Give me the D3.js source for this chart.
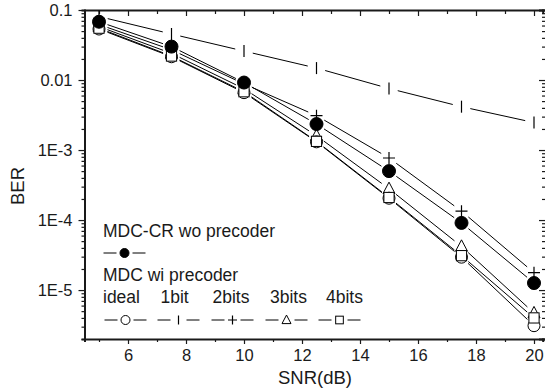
<!DOCTYPE html>
<html>
<head>
<meta charset="utf-8">
<script src="https://cdn.jsdelivr.net/npm/d3@7"></script>
<style>
  html, body { margin: 0; padding: 0; background: #fff; }
  svg { display: block; font-family: "Liberation Sans", Arial, sans-serif; }
</style>
</head>
<body>
<svg id="chart" width="545" height="392"></svg>
<script>
// ---- data ----
const snr = [5, 7.5, 10, 12.5, 15, 17.5, 20];
const berCR    = [0.068, 0.030, 0.0092, 0.00235, 5.0e-4, 9.1e-5, 1.26e-5];
const berIdeal = [0.0535, 0.0215, 0.0066, 0.00131, 2.05e-4, 2.95e-5, 3.1e-6];
const ber1bit  = [0.0807, 0.0454, 0.0259, 0.0148, 0.00757, 0.00416, 0.00247];
const ber2bits = [0.062, 0.027, 0.0088, 0.0031, 7.7e-4, 1.34e-4, 1.77e-5];
const ber3bits = [0.058, 0.024, 0.0075, 0.0016, 2.8e-4, 4.2e-5, 4.7e-6];
const ber4bits = [0.055, 0.022, 0.0068, 0.00133, 2.1e-4, 3.1e-5, 4.0e-6];
const xMajorTicks = [6, 8, 10, 12, 14, 16, 18, 20];
const xMinorTicks = [5, 7, 9, 11, 13, 15, 17, 19];
const yMajorTicks = [0.1, 0.01, 1e-3, 1e-4, 1e-5];
const yTickLabels = ["0.1", "0.01", "1E-3", "1E-4", "1E-5"];
const legendTitle1 = "MDC-CR wo precoder";
const legendTitle2 = "MDC wi precoder";
const legendNames = ["ideal", "1bit", "2bits", "3bits", "4bits"];

// ---- layout ----
const svg = d3.select("#chart");
const L = 84.5, R = 542.7, T = 10, B = 339;
const x = d3.scaleLinear().domain([4.5, 20.3]).range([L, R]);
const y = d3.scaleLog().domain([2e-6, 0.1]).range([B, T]);
const axisColor = "#1a1a1a";
const textColor = "#1a1a1a";
const tickFont = "16.5px", legendFont = "17.5px", titleFont = "18.5px";

const yMinor = [];
for (let e = -6; e <= -2; e++) for (let m = 2; m <= 9; m++) {
  const v = m * Math.pow(10, e);
  if (v >= 2e-6 && v <= 0.1) yMinor.push(v);
}

function styleAxis(g) {
  g.selectAll("path.domain").attr("stroke", axisColor).attr("stroke-width", 2);
  g.selectAll(".tick line").attr("stroke", axisColor).attr("stroke-width", 1.2);
  g.selectAll("text").attr("fill", textColor).style("font-size", tickFont)
    .style("font-family", '"Liberation Sans", Arial, sans-serif');
}

// bottom
const gB = svg.append("g").attr("transform", `translate(0,${B})`);
gB.call(d3.axisBottom(x).tickValues(xMinorTicks).tickSize(3).tickFormat(""));
gB.append("g").call(d3.axisBottom(x).tickValues(xMajorTicks).tickSize(5).tickPadding(5).tickFormat(d3.format("d")));
styleAxis(gB);
gB.selectAll("g g path.domain").remove();

// top
const gT = svg.append("g").attr("transform", `translate(0,${T})`);
gT.call(d3.axisTop(x).tickValues(xMinorTicks).tickSize(-4).tickFormat(""));
gT.append("g").call(d3.axisTop(x).tickValues(xMajorTicks).tickSize(-6).tickFormat(""));
styleAxis(gT);
gT.selectAll("g g path.domain").remove();

// left
const gL = svg.append("g").attr("transform", `translate(${L},0)`);
gL.call(d3.axisLeft(y).tickValues(yMinor).tickSize(3).tickFormat(""));
gL.append("g").call(d3.axisLeft(y).tickValues(yMajorTicks).tickSize(6).tickPadding(6)
  .tickFormat((d, i) => yTickLabels[i]));
styleAxis(gL);
gL.selectAll("g g path.domain").remove();

// right (inward ticks; axis line just past the edge)
const gR = svg.append("g").attr("transform", `translate(546,0)`);
gR.call(d3.axisRight(y).tickValues(yMinor).tickSize(-4).tickFormat(""));
gR.append("g").call(d3.axisRight(y).tickValues(yMajorTicks).tickSize(-7).tickFormat(""));
styleAxis(gR);

// axis titles
svg.append("text").attr("x", 315).attr("y", 384)
  .attr("text-anchor", "middle").style("font-size", titleFont).attr("fill", textColor).text("SNR(dB)");
svg.append("text").attr("transform", "translate(24,186) rotate(-90)")
  .attr("text-anchor", "middle").style("font-size", titleFont).attr("fill", textColor).text("BER");

// ---- series ----
const plot = svg.append("g");

function gapLines(g, pts, gap) {
  for (let i = 0; i < pts.length - 1; i++) {
    const [x0, y0] = pts[i], [x1, y1] = pts[i + 1];
    const dx = x1 - x0, dy = y1 - y0, len = Math.hypot(dx, dy);
    if (len <= 2 * gap) continue;
    const ux = dx / len, uy = dy / len;
    g.append("line")
      .attr("x1", x0 + ux * gap).attr("y1", y0 + uy * gap)
      .attr("x2", x1 - ux * gap).attr("y2", y1 - uy * gap)
      .attr("stroke", "#000").attr("stroke-width", 1);
  }
}

function marker(g, type, cx, cy, s) {
  if (type === "circleFilled") {
    g.append("circle").attr("cx", cx).attr("cy", cy).attr("r", s).attr("fill", "#000").attr("stroke", "#000");
  } else if (type === "circle") {
    g.append("circle").attr("cx", cx).attr("cy", cy).attr("r", s).attr("fill", "#fff").attr("stroke", "#000").attr("stroke-width", 1);
  } else if (type === "bar") {
    g.append("line").attr("x1", cx).attr("x2", cx).attr("y1", cy - s).attr("y2", cy + s).attr("stroke", "#000").attr("stroke-width", 1.2);
  } else if (type === "plus") {
    g.append("path").attr("d", `M${cx - s},${cy}H${cx + s}M${cx},${cy - s}V${cy + s}`).attr("stroke", "#000").attr("stroke-width", 1.2).attr("fill", "none");
  } else if (type === "triangle") {
    g.append("path").attr("d", `M${cx},${cy - s * 1.1}L${cx + s},${cy + s * 0.8}L${cx - s},${cy + s * 0.8}Z`)
      .attr("fill", "#fff").attr("stroke", "#000").attr("stroke-width", 1);
  } else if (type === "square") {
    const a = s * 0.85;
    g.append("rect").attr("x", cx - a).attr("y", cy - a).attr("width", 2 * a).attr("height", 2 * a)
      .attr("fill", "#fff").attr("stroke", "#000").attr("stroke-width", 1);
  }
}

const series = [
  { vals: ber1bit, type: "bar", size: 6 },
  { vals: ber2bits, type: "plus", size: 6 },
  { vals: ber3bits, type: "triangle", size: 6 },
  { vals: berIdeal, type: "circle", size: 6 },
  { vals: ber4bits, type: "square", size: 6 },
  { vals: berCR, type: "circleFilled", size: 6.5 }
];

series.forEach(s => {
  const pts = snr.map((v, i) => [x(v), y(s.vals[i])]);
  gapLines(plot, pts, 9);
});
series.forEach(s => {
  snr.forEach((v, i) => marker(plot, s.type, x(v), y(s.vals[i]), s.size));
});

// ---- legend ----
const leg = svg.append("g");
function legText(tx, ty, t) {
  leg.append("text").attr("x", tx).attr("y", ty).style("font-size", legendFont).attr("fill", textColor).text(t);
}
function legSym(cx, cy, type, s) {
  leg.append("line").attr("x1", cx - 21).attr("x2", cx - 8).attr("y1", cy).attr("y2", cy).attr("stroke", "#000");
  leg.append("line").attr("x1", cx + 8).attr("x2", cx + 21).attr("y1", cy).attr("y2", cy).attr("stroke", "#000");
  marker(leg, type, cx, cy, s);
}
legText(103, 237, legendTitle1);
legSym(124.5, 253, "circleFilled", 4.5);
legText(103, 281, legendTitle2);
const legX = [103, 160.5, 212.5, 270, 326];
const legSymX = [125.5, 178.5, 232.5, 286.5, 339.5];
const legTypes = ["circle", "bar", "plus", "triangle", "square"];
legendNames.forEach((n, i) => {
  legText(legX[i], 303, n);
  legSym(legSymX[i], 320, legTypes[i], 4.5);
});
</script>
</body>
</html>
